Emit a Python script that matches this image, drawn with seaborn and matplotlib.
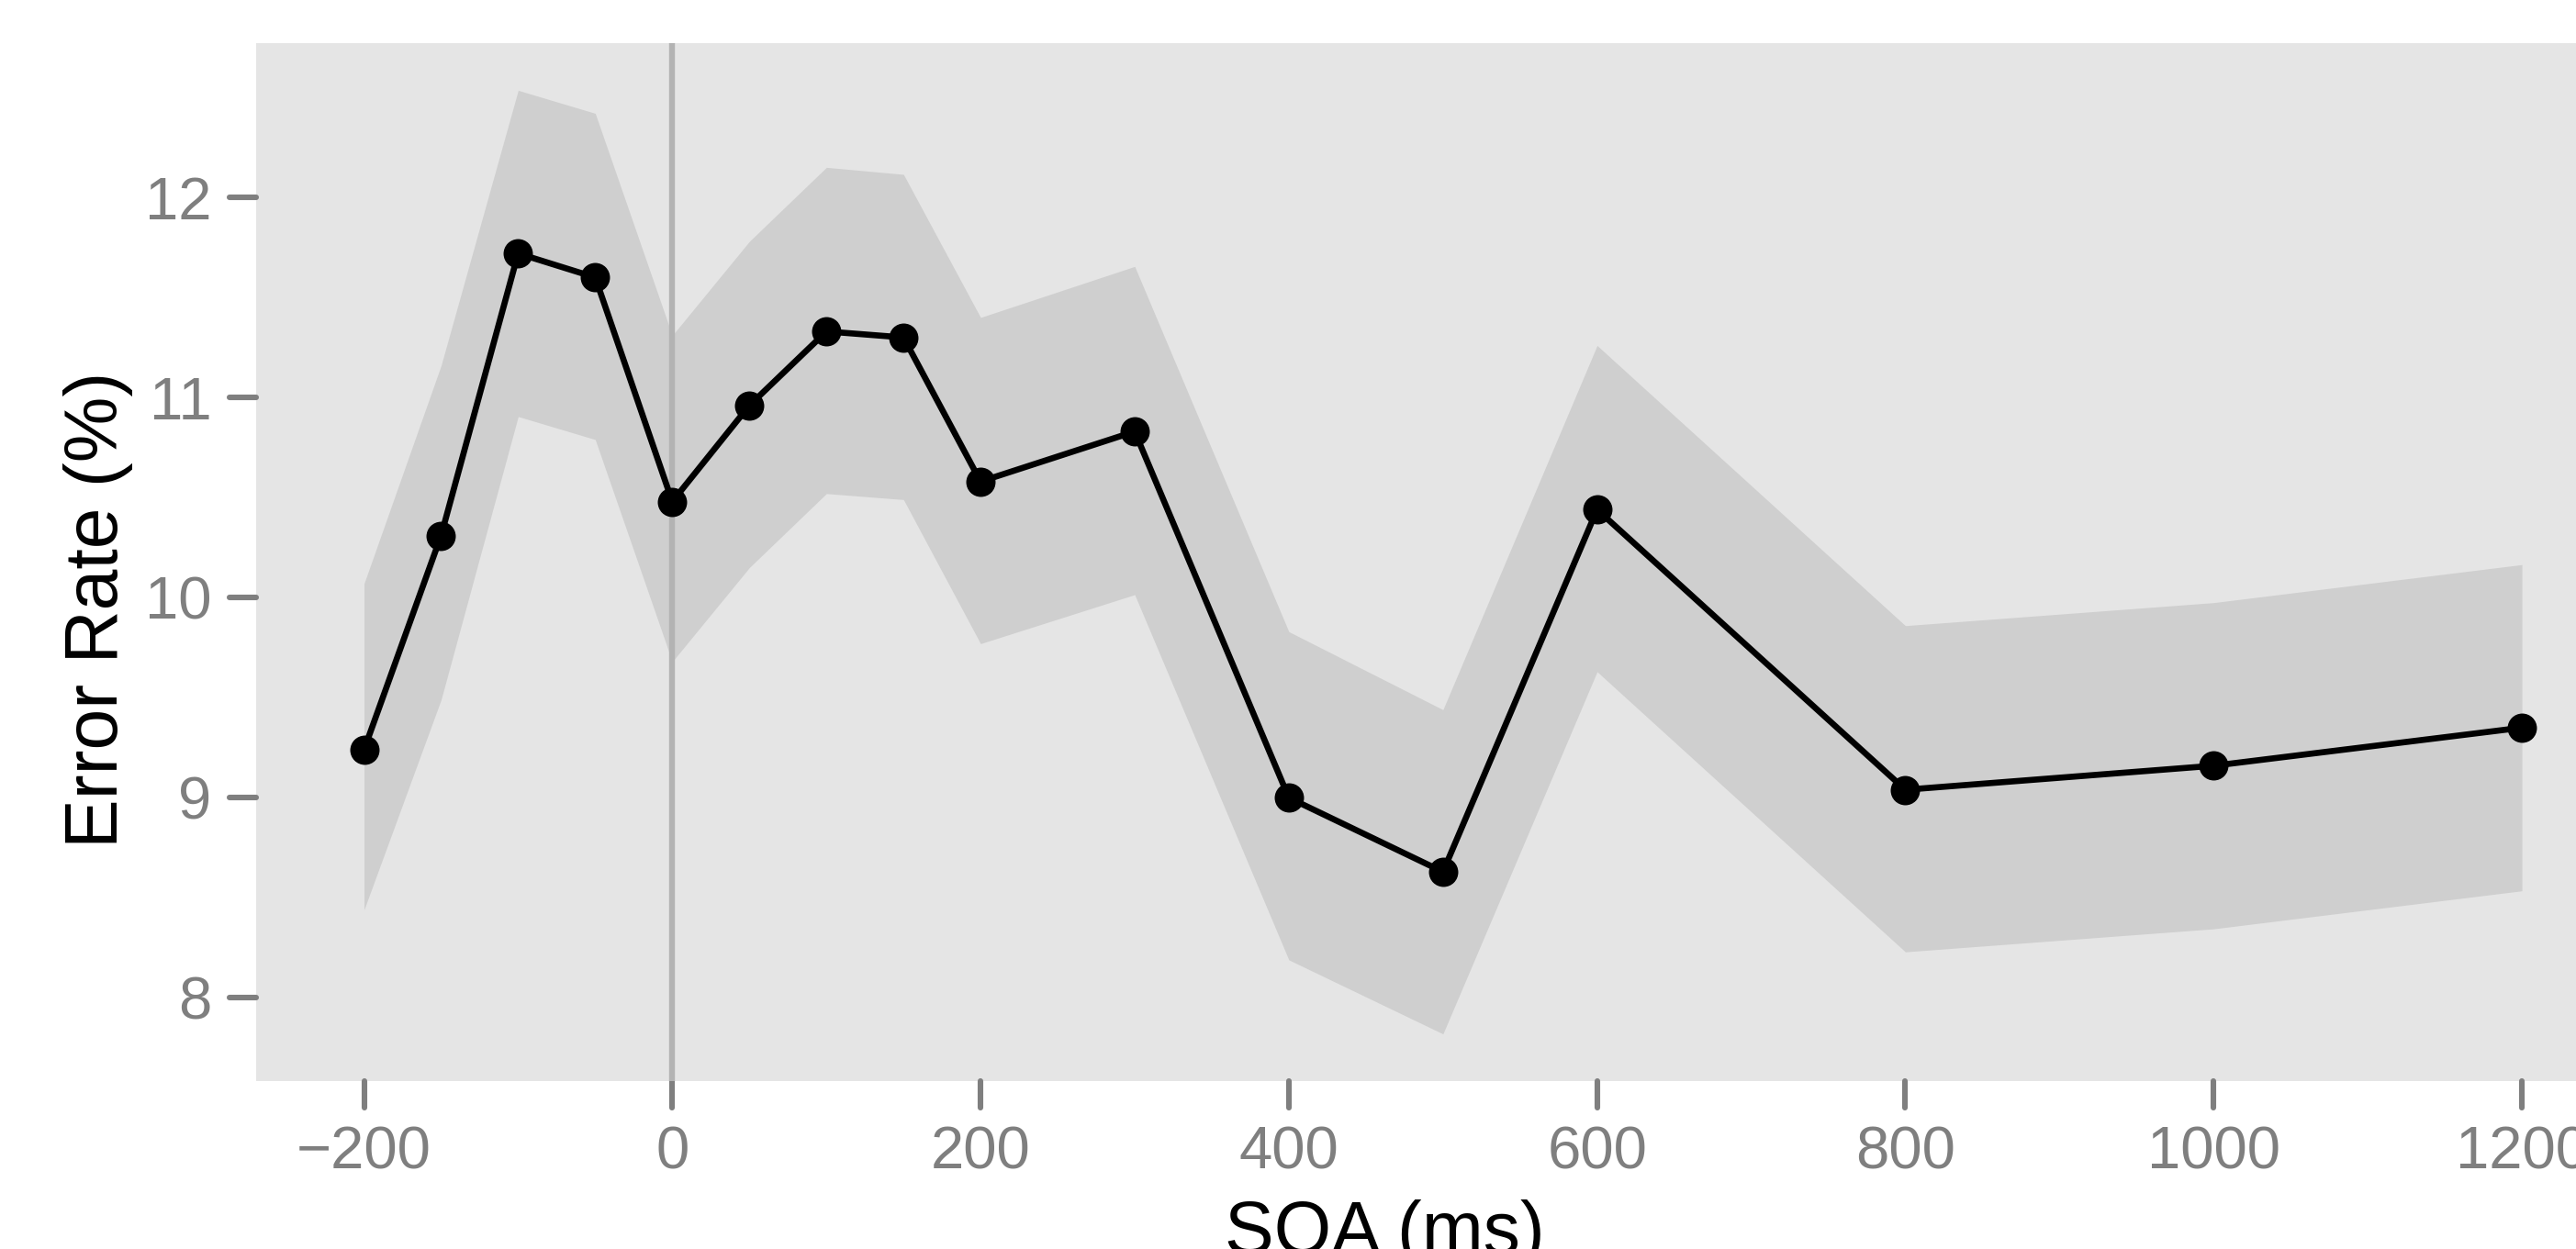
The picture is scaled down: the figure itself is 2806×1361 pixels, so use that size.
import matplotlib
matplotlib.use("Agg")
import matplotlib.pyplot as plt
import seaborn as sns
import numpy as np
import pandas as pd
from matplotlib.markers import MarkerStyle, TICKDOWN, TICKLEFT

# Error rate by SOA, with confidence band
soa = [-200, -150, -100, -50, 0, 50, 100, 150, 200, 300, 400, 500, 600, 800, 1000, 1200]
error_rate = [9.24, 10.31, 11.72, 11.60, 10.48, 10.96, 11.33, 11.30, 10.58, 10.83,
              9.00, 8.63, 10.44, 9.04, 9.16, 9.35]
ci_upper = [10.07, 11.16, 12.535, 12.42, 11.31, 11.78, 12.15, 12.115, 11.40, 11.655,
            9.83, 9.44, 11.26, 9.86, 9.975, 10.165]
ci_lower = [8.44, 9.49, 10.905, 10.79, 9.68, 10.15, 10.52, 10.49, 9.77, 10.015,
            8.19, 7.82, 9.63, 8.23, 8.345, 8.535]
x_ticks = [-200, 0, 200, 400, 600, 800, 1000, 1200]
y_ticks = [8, 9, 10, 11, 12]

df = pd.DataFrame({"soa": soa, "err": error_rate, "lo": ci_lower, "hi": ci_upper})

sns.set_style("white", {"axes.facecolor": "#E5E5E5", "axes.grid": False})
plt.rcParams["font.family"] = ["Liberation Sans", "DejaVu Sans"]

fig = plt.figure(figsize=(14.03, 6.805), dpi=200)
ax = fig.add_axes([0.09943, 0.13446, 0.92145, 0.83101])

ax.fill_between(df["soa"], df["lo"], df["hi"], color="#CFCFCF", linewidth=0, zorder=1)
ax.axvline(0, color="#B3B3B3", linewidth=2.3, zorder=2)
sns.lineplot(data=df, x="soa", y="err", ax=ax, color="black", linewidth=2.4,
             marker="o", markersize=11.5, markeredgewidth=0, zorder=3)

# ggplot-like 5% expansion
xr = max(soa) - min(soa)
ax.set_xlim(min(soa) - 0.05 * xr, max(soa) + 0.05 * xr)
yr = max(ci_upper) - min(ci_lower)
ax.set_ylim(min(ci_lower) - 0.05 * yr, max(ci_upper) + 0.05 * yr)

ax.set_xticks(x_ticks)
ax.set_xticklabels(["\u2212200" if t < 0 else str(t) for t in x_ticks])
ax.set_yticks(y_ticks)

for s in ax.spines.values():
    s.set_visible(False)
ax.tick_params(axis="both", bottom=True, left=True, colors="#7F7F7F", labelsize=23.5,
               length=10.5, width=2.2, pad=7, direction="out")

# rounded tick ends like ggplot
for t in ax.xaxis.get_major_ticks():
    t.tick1line.set_marker(MarkerStyle(TICKDOWN, capstyle="round"))
for t in ax.yaxis.get_major_ticks():
    t.tick1line.set_marker(MarkerStyle(TICKLEFT, capstyle="round"))

ax.set_xlabel("SOA (ms)", fontsize=29, color="black")
ax.xaxis.label.set_verticalalignment("baseline")
ax.xaxis.set_label_coords(0.4753, -0.166)
ax.set_ylabel("Error Rate (%)", fontsize=29, color="black")
ax.yaxis.label.set_verticalalignment("center")
ax.yaxis.set_label_coords(-0.0665, 0.454)

fig.savefig("out.png", dpi=200)
